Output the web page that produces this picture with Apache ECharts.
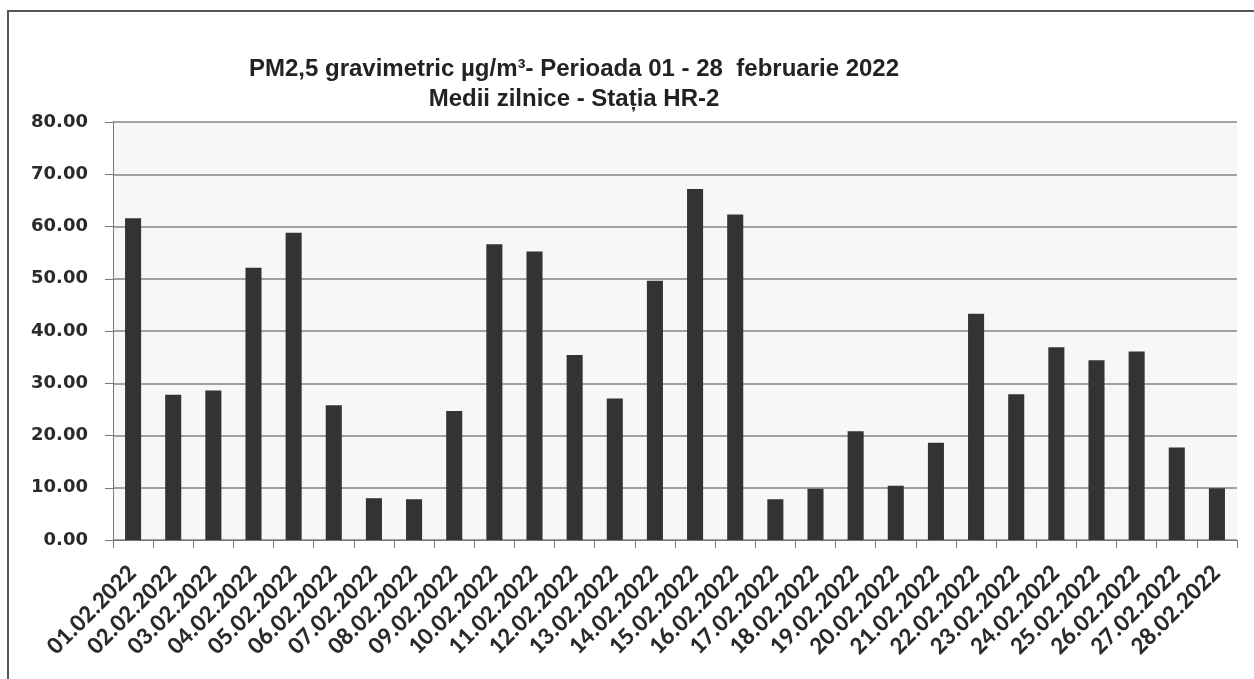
<!DOCTYPE html>
<html>
<head>
<meta charset="utf-8">
<script src="https://cdn.jsdelivr.net/npm/echarts@6/dist/echarts.min.js"></script>
<style>
  html, body { margin: 0; padding: 0; background: #fff; }
  #chart { width: 1254px; height: 679px; }
</style>
</head>
<body>
<div id="chart"></div>
<script>
  // zile februarie 2022
  var days = ['01.02.2022','02.02.2022','03.02.2022','04.02.2022','05.02.2022','06.02.2022','07.02.2022',
    '08.02.2022','09.02.2022','10.02.2022','11.02.2022','12.02.2022','13.02.2022','14.02.2022',
    '15.02.2022','16.02.2022','17.02.2022','18.02.2022','19.02.2022','20.02.2022','21.02.2022',
    '22.02.2022','23.02.2022','24.02.2022','25.02.2022','26.02.2022','27.02.2022','28.02.2022']
  // medii zilnice PM2,5
  var pm25 = [61.6, 27.8, 28.6, 52.1, 58.8, 25.8, 8.0, 7.8, 24.7, 56.6, 55.2, 35.4, 27.1, 49.6,
    67.2, 62.3, 7.8, 9.8, 20.8, 10.4, 18.6, 43.3, 27.9, 36.9, 34.4, 36.1, 17.7, 9.9]
  var yMin = 0, yMax = 80, yStep = 10

  var chart = echarts.init(document.getElementById('chart'))
  chart.setOption({
    animation: false,
    title: {
      text: 'PM2,5 gravimetric µg/m³- Perioada 01 - 28  februarie 2022\nMedii zilnice - Stația HR-2',
      left: 569,
      top: 49,
      textAlign: 'center',
      textStyle: {
        fontFamily: 'Liberation Sans, Arial',
        fontWeight: 'bold',
        fontSize: 24,
        lineHeight: 30,
        color: '#222'
      }
    },
    graphic: [{
      type: 'rect',
      shape: { x: 8, y: 11, width: 1260, height: 700 },
      style: { fill: 'none', stroke: '#555', lineWidth: 2 },
      silent: true
    }],
    grid: {
      left: 113,
      right: 17,
      top: 122,
      bottom: 139,
      show: true,
      backgroundColor: '#f7f7f7',
      borderWidth: 0
    },
    xAxis: {
      type: 'category',
      data: days,
      axisLine: { lineStyle: { color: '#777', width: 1 } },
      axisTick: { show: true, length: 8, lineStyle: { color: '#777' } },
      axisLabel: {
        interval: 0,
        rotate: 45,
        margin: 30,
        fontFamily: 'Carlito, Liberation Sans, Arial',
        fontWeight: 'bold',
        fontSize: 25,
        color: '#2a2a2a'
      }
    },
    yAxis: {
      type: 'value',
      min: yMin,
      max: yMax,
      interval: yStep,
      axisLine: { show: true, lineStyle: { color: '#777', width: 1 } },
      axisTick: { show: true, length: 8, lineStyle: { color: '#777' } },
      splitLine: { lineStyle: { color: '#858585', width: 1.5 } },
      axisLabel: {
        margin: 25,
        fontFamily: 'DejaVu Sans, Verdana',
        fontWeight: 'bold',
        fontSize: 18,
        color: '#2a2a2a',
        formatter: function (v) { return v.toFixed(2) }
      }
    },
    series: [{
      type: 'bar',
      data: pm25,
      barWidth: '40%',
      itemStyle: { color: '#333333' }
    }]
  })
</script>
</body>
</html>
